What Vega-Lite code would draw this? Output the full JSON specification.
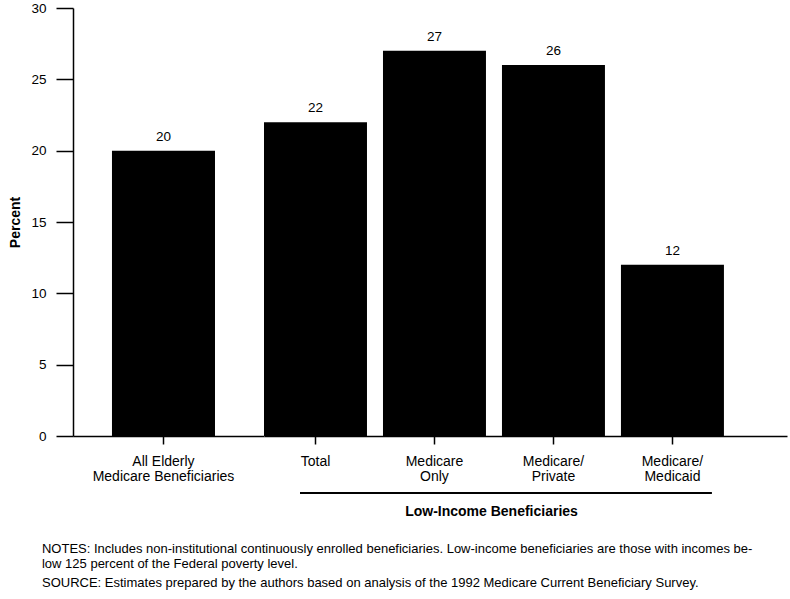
{
  "$schema": "https://vega.github.io/schema/vega-lite/v6.json",
  "padding": {"left": 8, "top": 1, "right": 5, "bottom": 5},
  "bounds": "flush",
  "spacing": 0,
  "datasets": {
    "bars": [
      {"group": "All Elderly", "category": "All Elderly Medicare Beneficiaries", "percent": 20},
      {"group": "Low-Income", "category": "Total", "percent": 22},
      {"group": "Low-Income", "category": "Medicare Only", "percent": 27},
      {"group": "Low-Income", "category": "Medicare/Private", "percent": 26},
      {"group": "Low-Income", "category": "Medicare/Medicaid", "percent": 12}
    ]
  },
  "title": {
    "text": ["NOTES: Includes non-institutional continuously enrolled beneficiaries. Low-income beneficiaries are those with incomes be-", "low 125 percent of the Federal poverty level."],
    "subtitle": "SOURCE: Estimates prepared by the authors based on analysis of the 1992 Medicare Current Beneficiary Survey.",
    "orient": "bottom",
    "anchor": "start",
    "dx": 33,
    "offset": 25,
    "fontSize": 13,
    "fontWeight": "normal",
    "lineHeight": 15,
    "color": "black",
    "subtitleFontSize": 13,
    "subtitleColor": "black",
    "subtitlePadding": 6
  },
  "hconcat": [
    {
      "width": 191,
      "height": 428,
      "data": {"name": "bars"},
      "transform": [{"filter": "datum.group == 'All Elderly'"}],
      "layer": [
        {
          "mark": {"type": "bar", "color": "black"},
          "encoding": {
            "x": {"field": "category", "type": "nominal", "sort": null,
                  "scale": {"paddingInner": 0, "paddingOuter": 0.427, "align": 0.443},
                  "axis": {"title": null, "labelExpr": "['All Elderly', 'Medicare Beneficiaries']"}},
            "y": {"field": "percent", "type": "quantitative",
                  "scale": {"domain": [0, 30], "nice": false},
                  "axis": {"title": "Percent", "values": [0, 5, 10, 15, 20, 25, 30]}}
          }
        },
        {
          "mark": {"type": "text", "baseline": "alphabetic", "dy": -10, "fontSize": 13.5, "color": "black"},
          "encoding": {
            "x": {"field": "category", "type": "nominal", "sort": null},
            "y": {"field": "percent", "type": "quantitative"},
            "text": {"field": "percent", "type": "quantitative"}
          }
        }
      ]
    },
    {
      "width": 523,
      "height": 428,
      "data": {"name": "bars"},
      "transform": [{"filter": "datum.group == 'Low-Income'"}],
      "layer": [
        {
          "mark": {"type": "bar", "color": "black"},
          "encoding": {
            "x": {"field": "category", "type": "nominal", "sort": null,
                  "scale": {"paddingInner": 0.1345, "paddingOuter": 0.265, "align": 0},
                  "axis": {"title": "Low-Income Beneficiaries",
                           "labelExpr": "datum.value == 'Total' ? 'Total' : datum.value == 'Medicare Only' ? ['Medicare', 'Only'] : ['Medicare/', slice(datum.value, 9)]",
                           "titleFontWeight": "bold", "titleFontSize": 14,
                           "titleX": 227, "titleY": 68, "titleBaseline": "top", "titleAlign": "center", "titleAnchor": null}},
            "y": {"field": "percent", "type": "quantitative",
                  "scale": {"domain": [0, 30], "nice": false},
                  "axis": null}
          }
        },
        {
          "mark": {"type": "text", "baseline": "alphabetic", "dy": -10, "fontSize": 13.5, "color": "black"},
          "encoding": {
            "x": {"field": "category", "type": "nominal", "sort": null},
            "y": {"field": "percent", "type": "quantitative"},
            "text": {"field": "percent", "type": "quantitative"}
          }
        },
        {
          "mark": {"type": "rule", "color": "black", "strokeWidth": 1.5, "clip": false},
          "encoding": {
            "x": {"datum": "Total", "bandPosition": 0.35},
            "x2": {"datum": "Medicare/Medicaid", "bandPosition": 0.88},
            "y": {"datum": -4}
          }
        }
      ]
    }
  ],
  "resolve": {"scale": {"y": "shared"}},
  "config": {
    "view": {"stroke": null},
    "font": "Liberation Sans",
    "axis": {
      "grid": false,
      "domainColor": "black",
      "domainWidth": 1.5,
      "tickColor": "black",
      "tickWidth": 1.5,
      "labelColor": "black",
      "titleColor": "black",
      "labelFontSize": 13.5
    },
    "axisX": {"labelAngle": 0, "tickSize": 8, "labelPadding": 10, "labelLineHeight": 15, "labelFontSize": 14},
    "axisY": {"tickSize": 17, "labelPadding": 10, "titleFontSize": 14, "titleFontWeight": "bold", "titlePadding": 8}
  }
}
